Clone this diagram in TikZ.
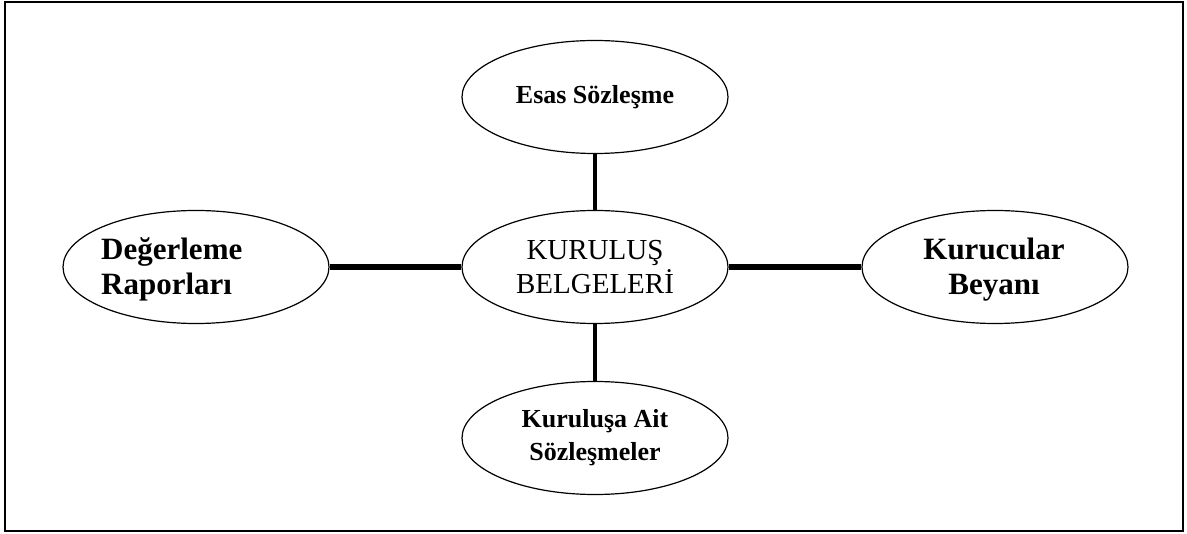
\documentclass[tikz,border=0pt]{standalone}
\usepackage{fontspec}
\setmainfont{Liberation Serif}
\usetikzlibrary{shapes.geometric}

\tikzset{
	belge/.style={ellipse, draw, line width=1.2pt, minimum width=266pt, minimum height=113pt, inner sep=0pt, align=center},
	kucuk/.style={font=\fontsize{26}{33}\selectfont\bfseries},
	buyuk/.style={font=\fontsize{31}{35}\selectfont\bfseries},
	orta/.style={font=\fontsize{29}{34}\selectfont}
}

\begin{document}
\begin{tikzpicture}[x=1pt,y=-1pt]
	\useasboundingbox (0,0) rectangle (1187,534);
	\draw[line width=2pt] (4.5,2.5) rectangle (1182.5,531.5);
	
	\node[belge,orta] (merkez) at (595,267) {KURULUŞ\\BELGELERİ};
	\node[belge,kucuk] (esas) at (595,97) {Esas Sözleşme};
	\node[belge,kucuk] (ait) at (595,438) {Kuruluşa Ait\\Sözleşmeler};
	\node[belge] (deger) at (196,267) {};
	\node[buyuk,anchor=west,align=left,inner sep=0pt] (degeryazi) at (101,269) {Değerleme\\Raporları};
	\node[belge] (kurucu) at (995,267) {};
	\node[buyuk,align=center,inner sep=0pt] (kurucuyazi) at (994,270) {Kurucular\\Beyanı};
	
	\draw[line width=4.5pt] (esas) -- (merkez);
	\draw[line width=4.5pt] (merkez) -- (ait);
	\draw[line width=6pt] (deger) -- (merkez);
	\draw[line width=6pt] (merkez) -- (kurucu);
\end{tikzpicture}
\end{document}
